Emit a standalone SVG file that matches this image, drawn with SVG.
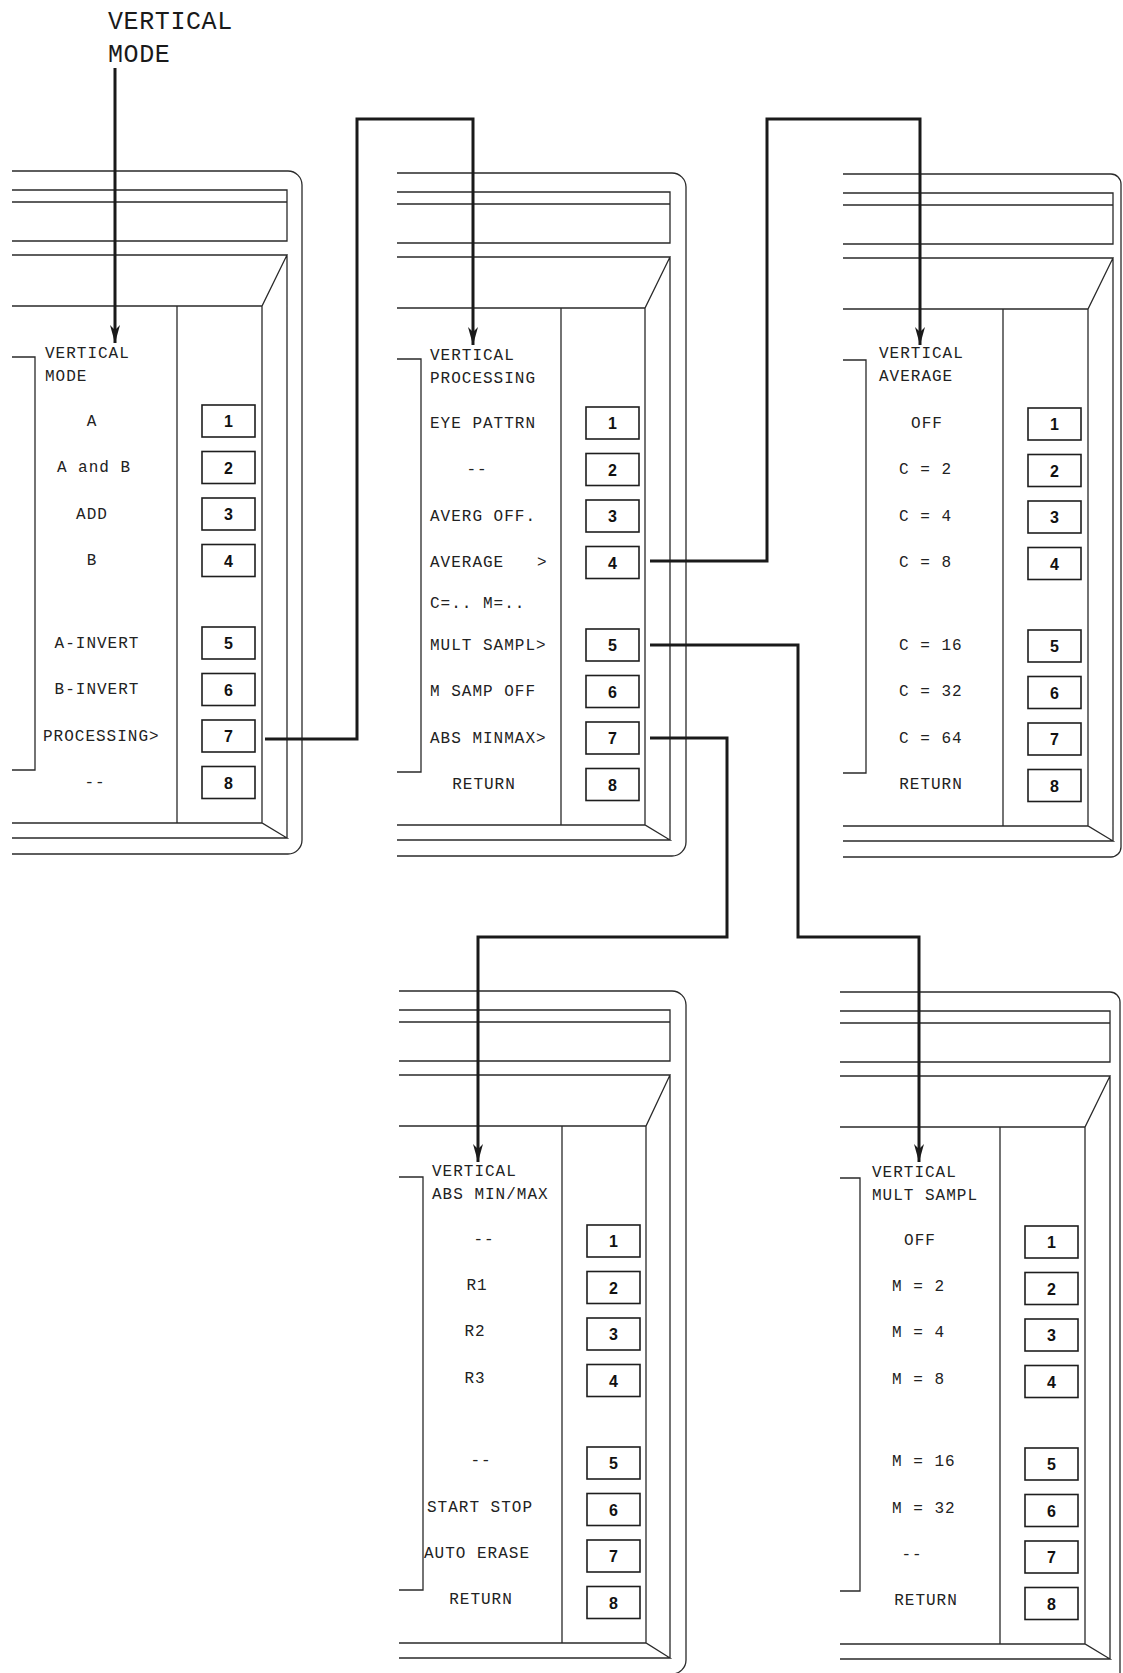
<svg xmlns="http://www.w3.org/2000/svg" width="1123" height="1673" viewBox="0 0 1123 1673">
<style>
.fr{fill:none;stroke:#2a2a2a;stroke-width:1.3}
.bx{fill:#fff;stroke:#1e1e1e;stroke-width:1.6}
.t{font-family:"Liberation Mono",monospace;font-size:16px;letter-spacing:1px;fill:#222}
.m{text-anchor:middle}
.n{font-family:"Liberation Sans",Arial,sans-serif;font-size:16px;font-weight:bold;fill:#111;text-anchor:middle}
.big{font-family:"Liberation Mono",monospace;font-size:25px;letter-spacing:0.6px;fill:#1a1a1a}
.cn{fill:none;stroke:#1a1a1a;stroke-width:3;marker-end:url(#ah)}
</style>
<defs>
<marker id="ah" markerUnits="userSpaceOnUse" markerWidth="22" markerHeight="14" viewBox="-20 -7 22 14" refX="0" refY="0" orient="auto">
<path d="M0,0 L-18,-5 L-13,0 L-18,5 Z" fill="#1a1a1a"/>
</marker>
</defs>
<rect width="1123" height="1673" fill="#fff"/>

<text class="big" x="108" y="29">VERTICAL</text>
<text class="big" x="108" y="62">MODE</text>

<g id="panel-mode">
<path class="fr" d="M12,171 H288 A14,14 0 0 1 302,185 V840 A14,14 0 0 1 288,854 H12"/>
<path class="fr" d="M12,190 H287 V241 H12 M12,202 H287"/>
<path class="fr" d="M12,255 H287 L262,306 H12 M287,255 V838 M262,306 V823 M12,823 H262 L287,838 H12 M177,306 V823"/>
<path class="fr" d="M12,357 H35 V770 H12"/>
<rect class="bx" x="202" y="405" width="53" height="32"/><text class="n" x="228.5" y="427">1</text>
<rect class="bx" x="202" y="451.5" width="53" height="32"/><text class="n" x="228.5" y="473.5">2</text>
<rect class="bx" x="202" y="498" width="53" height="32"/><text class="n" x="228.5" y="520">3</text>
<rect class="bx" x="202" y="544.5" width="53" height="32"/><text class="n" x="228.5" y="566.5">4</text>
<rect class="bx" x="202" y="627" width="53" height="32"/><text class="n" x="228.5" y="649">5</text>
<rect class="bx" x="202" y="673.5" width="53" height="32"/><text class="n" x="228.5" y="695.5">6</text>
<rect class="bx" x="202" y="720" width="53" height="32"/><text class="n" x="228.5" y="742">7</text>
<rect class="bx" x="202" y="766.5" width="53" height="32"/><text class="n" x="228.5" y="788.5">8</text>
<text class="t" x="45" y="358">VERTICAL</text>
<text class="t" x="45" y="381">MODE</text>
<text class="t m" x="92" y="426">A</text>
<text class="t m" x="94" y="472">A and B</text>
<text class="t m" x="92" y="519">ADD</text>
<text class="t m" x="92" y="565">B</text>
<text class="t m" x="97" y="648">A-INVERT</text>
<text class="t m" x="97" y="694">B-INVERT</text>
<text class="t" x="43" y="741">PROCESSING&gt;</text>
<text class="t m" x="95" y="787">--</text>
</g>

<g id="panel-processing">
<path class="fr" d="M397,173 H672 A14,14 0 0 1 686,187 V842 A14,14 0 0 1 672,856 H397"/>
<path class="fr" d="M397,192 H670 V243 H397 M397,204 H670"/>
<path class="fr" d="M397,257 H670 L645,308 H397 M670,257 V840 M645,308 V825 M397,825 H645 L670,840 H397 M561,308 V825"/>
<path class="fr" d="M397,359 H421 V772 H397"/>
<rect class="bx" x="586" y="407" width="53" height="32"/><text class="n" x="612.5" y="429">1</text>
<rect class="bx" x="586" y="453.5" width="53" height="32"/><text class="n" x="612.5" y="475.5">2</text>
<rect class="bx" x="586" y="500" width="53" height="32"/><text class="n" x="612.5" y="522">3</text>
<rect class="bx" x="586" y="546.5" width="53" height="32"/><text class="n" x="612.5" y="568.5">4</text>
<rect class="bx" x="586" y="629" width="53" height="32"/><text class="n" x="612.5" y="651">5</text>
<rect class="bx" x="586" y="675.5" width="53" height="32"/><text class="n" x="612.5" y="697.5">6</text>
<rect class="bx" x="586" y="722" width="53" height="32"/><text class="n" x="612.5" y="744">7</text>
<rect class="bx" x="586" y="768.5" width="53" height="32"/><text class="n" x="612.5" y="790.5">8</text>
<text class="t" x="430" y="360">VERTICAL</text>
<text class="t" x="430" y="383">PROCESSING</text>
<text class="t" x="430" y="428">EYE PATTRN</text>
<text class="t m" x="477" y="474">--</text>
<text class="t" x="430" y="521">AVERG OFF.</text>
<text class="t" x="430" y="567">AVERAGE</text>
<text class="t" x="537" y="567">&gt;</text>
<text class="t" x="430" y="608">C=.. M=..</text>
<text class="t" x="430" y="650">MULT SAMPL&gt;</text>
<text class="t" x="430" y="696">M SAMP OFF</text>
<text class="t" x="430" y="743">ABS MINMAX&gt;</text>
<text class="t m" x="484" y="789">RETURN</text>
</g>

<g id="panel-average">
<path class="fr" d="M843,174 H1111 A10,10 0 0 1 1121,184 V847 A10,10 0 0 1 1111,857 H843"/>
<path class="fr" d="M843,193 H1113 V244 H843 M843,205 H1113"/>
<path class="fr" d="M843,258 H1113 L1088,309 H843 M1113,258 V841 M1088,309 V826 M843,826 H1088 L1113,841 H843 M1003,309 V826"/>
<path class="fr" d="M843,360 H866 V773 H843"/>
<rect class="bx" x="1028" y="408" width="53" height="32"/><text class="n" x="1054.5" y="430">1</text>
<rect class="bx" x="1028" y="454.5" width="53" height="32"/><text class="n" x="1054.5" y="476.5">2</text>
<rect class="bx" x="1028" y="501" width="53" height="32"/><text class="n" x="1054.5" y="523">3</text>
<rect class="bx" x="1028" y="547.5" width="53" height="32"/><text class="n" x="1054.5" y="569.5">4</text>
<rect class="bx" x="1028" y="630" width="53" height="32"/><text class="n" x="1054.5" y="652">5</text>
<rect class="bx" x="1028" y="676.5" width="53" height="32"/><text class="n" x="1054.5" y="698.5">6</text>
<rect class="bx" x="1028" y="723" width="53" height="32"/><text class="n" x="1054.5" y="745">7</text>
<rect class="bx" x="1028" y="769.5" width="53" height="32"/><text class="n" x="1054.5" y="791.5">8</text>
<text class="t" x="879" y="358">VERTICAL</text>
<text class="t" x="879" y="381">AVERAGE</text>
<text class="t m" x="927" y="428">OFF</text>
<text class="t" x="899" y="474">C = 2</text>
<text class="t" x="899" y="521">C = 4</text>
<text class="t" x="899" y="567">C = 8</text>
<text class="t" x="899" y="650">C = 16</text>
<text class="t" x="899" y="696">C = 32</text>
<text class="t" x="899" y="743">C = 64</text>
<text class="t m" x="931" y="789">RETURN</text>
</g>

<g id="panel-absminmax">
<path class="fr" d="M399,991 H672 A14,14 0 0 1 686,1005 V1660 A14,14 0 0 1 672,1674 H399"/>
<path class="fr" d="M399,1010 H670 V1061 H399 M399,1022 H670"/>
<path class="fr" d="M399,1075 H670 L646,1126 H399 M670,1075 V1658 M646,1126 V1643 M399,1643 H646 L670,1658 H399 M562,1126 V1643"/>
<path class="fr" d="M399,1177 H423 V1590 H399"/>
<rect class="bx" x="587" y="1225" width="53" height="32"/><text class="n" x="613.5" y="1247">1</text>
<rect class="bx" x="587" y="1271.5" width="53" height="32"/><text class="n" x="613.5" y="1293.5">2</text>
<rect class="bx" x="587" y="1318" width="53" height="32"/><text class="n" x="613.5" y="1340">3</text>
<rect class="bx" x="587" y="1364.5" width="53" height="32"/><text class="n" x="613.5" y="1386.5">4</text>
<rect class="bx" x="587" y="1447" width="53" height="32"/><text class="n" x="613.5" y="1469">5</text>
<rect class="bx" x="587" y="1493.5" width="53" height="32"/><text class="n" x="613.5" y="1515.5">6</text>
<rect class="bx" x="587" y="1540" width="53" height="32"/><text class="n" x="613.5" y="1562">7</text>
<rect class="bx" x="587" y="1586.5" width="53" height="32"/><text class="n" x="613.5" y="1608.5">8</text>
<text class="t" x="432" y="1176">VERTICAL</text>
<text class="t" x="432" y="1199">ABS MIN/MAX</text>
<text class="t m" x="484" y="1244">--</text>
<text class="t m" x="477" y="1290">R1</text>
<text class="t m" x="475" y="1336">R2</text>
<text class="t m" x="475" y="1383">R3</text>
<text class="t m" x="481" y="1465">--</text>
<text class="t" x="427" y="1512">START STOP</text>
<text class="t" x="424" y="1558">AUTO ERASE</text>
<text class="t m" x="481" y="1604">RETURN</text>
</g>

<g id="panel-multsampl">
<path class="fr" d="M840,992 H1110 A10,10 0 0 1 1120,1002 V1673"/>
<path class="fr" d="M840,1011 H1110 V1062 H840 M840,1023 H1110"/>
<path class="fr" d="M840,1076 H1110 L1085,1127 H840 M1110,1076 V1659 M1085,1127 V1644 M840,1644 H1085 L1110,1659 H840 M1000,1127 V1644"/>
<path class="fr" d="M840,1178 H860 V1591 H840"/>
<rect class="bx" x="1025" y="1226" width="53" height="32"/><text class="n" x="1051.5" y="1248">1</text>
<rect class="bx" x="1025" y="1272.5" width="53" height="32"/><text class="n" x="1051.5" y="1294.5">2</text>
<rect class="bx" x="1025" y="1319" width="53" height="32"/><text class="n" x="1051.5" y="1341">3</text>
<rect class="bx" x="1025" y="1365.5" width="53" height="32"/><text class="n" x="1051.5" y="1387.5">4</text>
<rect class="bx" x="1025" y="1448" width="53" height="32"/><text class="n" x="1051.5" y="1470">5</text>
<rect class="bx" x="1025" y="1494.5" width="53" height="32"/><text class="n" x="1051.5" y="1516.5">6</text>
<rect class="bx" x="1025" y="1541" width="53" height="32"/><text class="n" x="1051.5" y="1563">7</text>
<rect class="bx" x="1025" y="1587.5" width="53" height="32"/><text class="n" x="1051.5" y="1609.5">8</text>
<text class="t" x="872" y="1177">VERTICAL</text>
<text class="t" x="872" y="1200">MULT SAMPL</text>
<text class="t m" x="920" y="1245">OFF</text>
<text class="t" x="892" y="1291">M = 2</text>
<text class="t" x="892" y="1337">M = 4</text>
<text class="t" x="892" y="1384">M = 8</text>
<text class="t" x="892" y="1466">M = 16</text>
<text class="t" x="892" y="1513">M = 32</text>
<text class="t m" x="912" y="1559">--</text>
<text class="t m" x="926" y="1605">RETURN</text>
</g>

<g id="connectors">
<path class="cn" d="M115,68 V343"/>
<path class="cn" d="M265,739 H357 V119 H473 V345"/>
<path class="cn" d="M650,561 H767 V119 H920 V345"/>
<path class="cn" d="M650,645 H798 V937 H919 V1162"/>
<path class="cn" d="M650,738 H727 V937 H478 V1162"/>
</g>
</svg>
